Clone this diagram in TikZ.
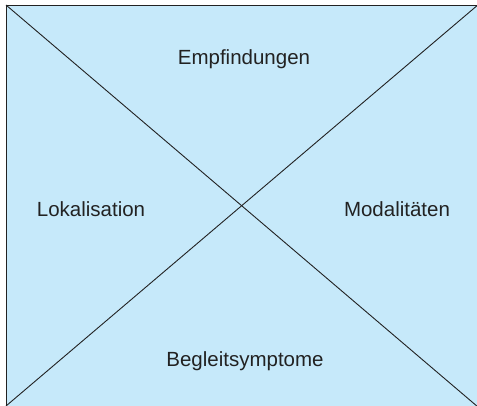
\documentclass[tikz,border=0pt]{standalone}
\usepackage{fontspec}
\setmainfont{Liberation Sans}
\definecolor{boxfill}{RGB}{198,233,250}
\definecolor{ink}{RGB}{34,34,34}
\begin{document}
\begin{tikzpicture}[x=1pt,y=-1pt,
  lbl/.style={font=\fontsize{20.5}{23}\selectfont, text=ink, inner sep=0pt},
  edge/.style={draw=ink, line width=0.9pt}]
\useasboundingbox (0,0) rectangle (477,405);
\clip (0,0) rectangle (477,405);
\fill[white] (0,0) rectangle (477,405);
\coordinate (tl) at (6,5);
\coordinate (tr) at (480,5);
\coordinate (bl) at (6,408);
\coordinate (br) at (480,408);
\fill[boxfill] (tl) rectangle (br);
\draw[edge] (tl) -- (tr);
\draw[edge] (tl) -- (bl);
\draw[edge] (tl) -- (478,407);
\draw[edge] (6,406) -- (479,4);
\node[lbl] (emp) at (244,59) {Empfindungen};
\node[lbl] (lok) at (91,209) {Lokalisation};
\node[lbl] (mod) at (397,209) {Modalitäten};
\node[lbl] (beg) at (245,361) {Begleitsymptome};
\end{tikzpicture}
\end{document}
